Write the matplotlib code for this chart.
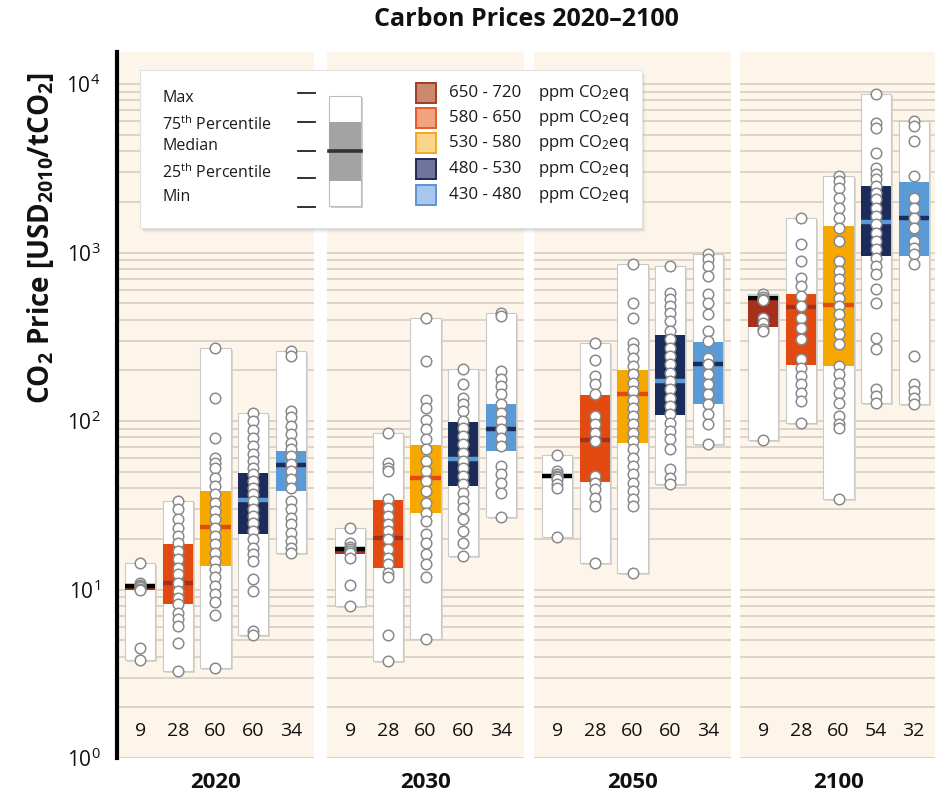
import matplotlib
matplotlib.use("Agg")
import matplotlib.pyplot as plt
from matplotlib import font_manager, transforms
from matplotlib.patches import Rectangle
from matplotlib.ticker import LogLocator, NullFormatter, LogFormatterMathtext

# ---------------------------------------------------------------- data
years = ["2020", "2030", "2050", "2100"]
categories = ["650 - 720", "580 - 650", "530 - 580", "480 - 530", "430 - 480"]
unit_label = "ppm CO$_2$eq"
stat_labels = ["Max", "75$^{th}$ Percentile", "Median", "25$^{th}$ Percentile", "Min"]

scenario_counts_2020 = [9, 28, 60, 60, 34]
scenario_counts_2030 = [9, 28, 60, 60, 34]
scenario_counts_2050 = [9, 28, 60, 60, 34]
scenario_counts_2100 = [9, 28, 60, 54, 32]

# (min, 25th, median, 75th, max) per concentration category
stats_2020 = [(3.8, 10.0, 10.5, 10.7, 14.4), (3.3, 8.2, 11.0, 18.6, 33.5),
              (3.44, 13.8, 23.5, 38.4, 272), (5.4, 21.3, 33.8, 49.3, 112),
              (16.5, 38.4, 54.6, 66.4, 260)]
stats_2030 = [(8.0, 16.2, 17.3, 17.9, 23.3), (3.76, 13.5, 20.3, 33.8, 85.3),
              (5.1, 28.6, 46.1, 72, 407), (15.8, 41.1, 59.3, 99, 203),
              (26.9, 66.4, 90, 127, 439)]
stats_2050 = [(20.5, 46.0, 47.2, 48.5, 62.9), (14.4, 43.6, 76.8, 142, 292),
              (12.6, 74.4, 144, 200, 851), (42.1, 108, 173, 324, 831),
              (72.7, 127, 219, 294, 984)]
stats_2100 = [(76.8, 361, 535, 552, 565), (97.7, 215, 475, 570, 1610),
              (34.4, 212, 486, 1436, 2844), (128, 953, 1524, 2482, 8690),
              (126, 953, 1610, 2632, 6030)]

# individual scenario prices
points_2020 = [
    [14.4, 11.0, 10.6, 10.5, 10.3, 10.1, 9.9, 4.5, 3.8],
    [33.5, 29.9, 26.1, 23.3, 20.8, 19.0, 16.9, 15.1, 13.5, 12.3, 11.0, 9.8, 8.9,
     8.2, 7.3, 6.7, 6.1, 4.8, 3.3],
    [272, 137, 79.6, 60.6, 56.6, 52.8, 46.1, 41.1, 36.7, 32.7, 29.2, 26.1, 23.3,
     20.8, 18.5, 16.5, 14.8, 13.2, 11.8, 10.5, 9.4, 8.4, 7.1, 3.44],
    [112, 100, 89, 79.6, 71, 63.4, 57.9, 52.8, 48.3, 44, 40.2, 36.7, 33.5, 29.9,
     27.3, 24.9, 22.2, 19.9, 17.7, 16.2, 14.8, 11.5, 9.8, 5.7, 5.4],
    [260, 243, 115, 105, 93.4, 83.4, 74.4, 67.9, 62, 55.3, 50.5, 45.1, 40.2, 33.5,
     29.9, 26.7, 24.4, 21.7, 19.4, 17.7, 16.5],
]
points_2030 = [
    [23.3, 19.0, 17.8, 17.3, 17.0, 16.4, 15.4, 10.7, 8.0],
    [85.3, 56.6, 52.8, 50.5, 34.3, 30.6, 27.3, 24.4, 22.2, 19.9, 17.3, 15.4, 14.1,
     12.6, 11.8, 5.4, 3.76],
    [407, 227, 134, 120, 102, 89.3, 77.9, 67.9, 57.9, 50.5, 44, 38.4, 32.7, 28.6,
     25.5, 21.3, 19.0, 16.2, 14.1, 11.8, 5.1],
    [203, 165, 137, 126, 115, 100, 91.3, 81.5, 72.7, 64.9, 57.9, 52.8, 47.2, 42.1,
     37.5, 33.5, 30.6, 26.1, 22.2, 19.0, 15.8],
    [439, 420, 198, 177, 161, 144, 126, 112, 100, 89.3, 79.6, 71, 54.1, 48.3, 43.1,
     37.5, 26.9],
]
points_2050 = [
    [62.9, 50.5, 48.2, 47.2, 46.4, 45.0, 42.0, 40.2, 20.5],
    [292, 229, 185, 165, 144, 107, 95.6, 85.3, 76.1, 47.2, 43.1, 39.3, 35.1, 31.3, 14.4],
    [851, 504, 410, 292, 266, 238, 212, 189, 169, 151, 134, 120, 107, 95.6, 85.3,
     76.1, 67.9, 60.6, 54.1, 48.3, 43.1, 38.4, 34.3, 31.3, 12.6],
    [831, 578, 527, 481, 439, 392, 342, 305, 272, 243, 217, 194, 173, 154, 137, 123,
     110, 97.7, 87.2, 77.9, 67.9, 51.7, 46.1, 42.1],
    [984, 911, 831, 726, 565, 504, 430, 342, 298, 238, 217, 189, 165, 144, 126, 110,
     95.6, 72.7],
]
points_2100 = [
    [565, 545, 530, 520, 410, 380, 350, 340, 76.8],
    [1610, 1119, 887, 706, 630, 552, 481, 410, 358, 305, 232, 207, 185, 165, 147,
     131, 97.7],
    [2844, 2657, 2425, 2115, 1845, 1610, 1404, 1170, 891, 777, 693, 618, 539, 481,
     430, 375, 327, 285, 212, 189, 169, 147, 128, 107, 95.6, 91, 34.4],
    [8690, 5895, 5507, 3911, 3186, 2911, 2718, 2482, 2265, 2069, 1845, 1647, 1470,
     1311, 1170, 1044, 931, 831, 742, 605, 504, 312, 266, 154, 141, 128],
    [6030, 5636, 4590, 2844, 2115, 1845, 1610, 1404, 1170, 1068, 975, 851, 243, 165,
     151, 137, 126],
]

# ---------------------------------------------------------------- style
iqr_colors = ["#a5301c", "#e24a12", "#f6a800", "#1b2b5a", "#5a9ad6"]
median_colors = ["#000000", "#a8301a", "#e24a12", "#5a9ad6", "#1b2b5a"]
legend_face = ["#c98a6e", "#f2a27e", "#fcd58a", "#70749a", "#a9c6ec"]
legend_edge = ["#a53c25", "#e65c2a", "#f2a623", "#22295a", "#5d93d6"]
panel_bg = "#fdf5e9"
grid_color = "#d2cbc0"

names = {f.name for f in font_manager.fontManager.ttflist}
base_font = "Liberation Sans Narrow" if "Liberation Sans Narrow" in names else "Open Sans"
plt.rcParams["font.family"] = [base_font, "DejaVu Sans"]
plt.rcParams["mathtext.fontset"] = "custom"
plt.rcParams["mathtext.rm"] = base_font
plt.rcParams["mathtext.bf"] = base_font + ":bold"
plt.rcParams["mathtext.default"] = "regular"

W, H = 935, 797
fig = plt.figure(figsize=(W / 100, H / 100), dpi=100)


def px_rect(x0, y0, w, h):
    return [x0 / W, 1 - (y0 + h) / H, w / W, h / H]


panel_left = [117, 327, 534, 740]
panel_top, panel_bottom, panel_width = 52, 758, 197
y_top = 10 ** ((panel_bottom - panel_top) / 168.5)
box_w = 0.8
count_y = 1.45

all_stats = [stats_2020, stats_2030, stats_2050, stats_2100]
all_points = [points_2020, points_2030, points_2050, points_2100]
all_counts = [scenario_counts_2020, scenario_counts_2030,
              scenario_counts_2050, scenario_counts_2100]

for p, year in enumerate(years):
    ax = fig.add_axes(px_rect(panel_left[p], panel_top, panel_width,
                              panel_bottom - panel_top))
    ax.set_facecolor(panel_bg)
    ax.set_yscale("log")
    ax.set_ylim(1, y_top)
    ax.set_xlim(-0.62, 4.62)
    ax.yaxis.set_major_locator(LogLocator(base=10))
    ax.yaxis.set_minor_locator(LogLocator(base=10, subs=range(2, 10)))
    ax.yaxis.set_minor_formatter(NullFormatter())
    ax.grid(which="both", axis="y", color=grid_color, lw=1.1, zorder=0)
    ax.set_axisbelow(True)
    ax.set_xticks([])
    ax.tick_params(which="both", length=0)
    for s in ax.spines.values():
        s.set_visible(False)
    if p == 0:
        ax.spines["left"].set_visible(True)
        ax.spines["left"].set_linewidth(3)
        ax.spines["left"].set_color("black")
        ax.yaxis.set_major_formatter(LogFormatterMathtext())
        ax.tick_params(axis="y", labelsize=15, pad=12, labelcolor="#111111")
    else:
        ax.set_yticklabels([])

    shadow = transforms.offset_copy(ax.transData, fig=fig, x=2, y=-2, units="dots")
    for i in range(len(categories)):
        lo, q1, med, q3, hi = all_stats[p][i]
        x0 = i - box_w / 2
        ax.add_patch(Rectangle((x0, lo), box_w, hi - lo, transform=shadow,
                               facecolor="#d6d1c8", edgecolor="none", alpha=0.8,
                               zorder=1))
        ax.add_patch(Rectangle((x0, lo), box_w, hi - lo, facecolor="white",
                               edgecolor="#c9c9c9", lw=0.8, zorder=2))
        ax.add_patch(Rectangle((x0, q1), box_w, q3 - q1, facecolor=iqr_colors[i],
                               edgecolor="none", zorder=3))
        ax.hlines(med, x0, x0 + box_w, colors=median_colors[i], lw=3.2, zorder=4)
        pts = all_points[p][i]
        ax.plot([i] * len(pts), pts, "o", ms=7.6, mfc="white", mec="#8a8a8a",
                mew=1.1, zorder=5, clip_on=False)
        ax.text(i, count_y, str(all_counts[p][i]), ha="center", va="center",
                fontsize=14, color="#111111")
    ax.text(0.5, -0.034, year, transform=ax.transAxes, ha="center", va="center",
            fontsize=16, fontweight="bold", color="#111111")

# ---------------------------------------------------------------- titles
fig.text(526 / W, 1 - 20 / H, "Carbon Prices 2020\u20132100", ha="center",
         va="center", fontsize=18, fontweight="bold", color="#111111")
fig.text(41 / W, 1 - 238 / H, "CO$_2$ Price [USD$_{2010}$/tCO$_2$]", rotation=90,
         ha="center", va="center", fontsize=20, fontweight="bold", color="#111111")

# ---------------------------------------------------------------- legend
lw_, lh_ = 502, 158
lax = fig.add_axes(px_rect(140, 70, lw_, lh_), zorder=10)
lax.set_xlim(0, lw_)
lax.set_ylim(lh_, 0)
lax.axis("off")
for k, a in enumerate([0.10, 0.08, 0.06, 0.04]):
    d = k + 1
    lax.add_patch(Rectangle((d, d + 1), lw_, lh_, facecolor="#7a7a7a", alpha=a,
                            edgecolor="none", clip_on=False, zorder=0))
lax.add_patch(Rectangle((0, 0), lw_, lh_, facecolor="white", edgecolor="#e2e2e2",
                        lw=0.8, clip_on=False, zorder=1))

label_y = [28, 55, 76, 103, 127]
dash_y = [23, 52, 81, 108, 137]
for txt, ty, dy in zip(stat_labels, label_y, dash_y):
    lax.text(22, ty, txt, ha="left", va="center", fontsize=11.5, color="#1a1a1a",
             zorder=3)
    lax.plot([158, 175], [dy, dy], color="#222222", lw=1.3, zorder=3)
# example box
lax.add_patch(Rectangle((191, 28), 32, 110, facecolor="#cfcfcf", edgecolor="none",
                        clip_on=False, zorder=2))
lax.add_patch(Rectangle((189, 26), 32, 110, facecolor="white", edgecolor="#bdbdbd",
                        lw=0.8, zorder=3))
lax.add_patch(Rectangle((189, 52), 32, 59, facecolor="#a3a3a3", edgecolor="none",
                        zorder=4))
lax.plot([189, 221], [81, 81], color="#333333", lw=2.6, zorder=5)

swatch_y = [23, 48, 73, 99, 125]
for i, cat in enumerate(categories):
    sy = swatch_y[i]
    lax.add_patch(Rectangle((276, sy - 10), 20, 20, facecolor=legend_face[i],
                            edgecolor=legend_edge[i], lw=1.4, zorder=3))
    lax.text(309, sy, cat, ha="left", va="center", fontsize=12.2, color="#1a1a1a",
             zorder=3)
    lax.text(398, sy, unit_label, ha="left", va="center", fontsize=12,
             color="#1a1a1a", zorder=3)

fig.savefig("out.png", dpi=100, facecolor="white")
